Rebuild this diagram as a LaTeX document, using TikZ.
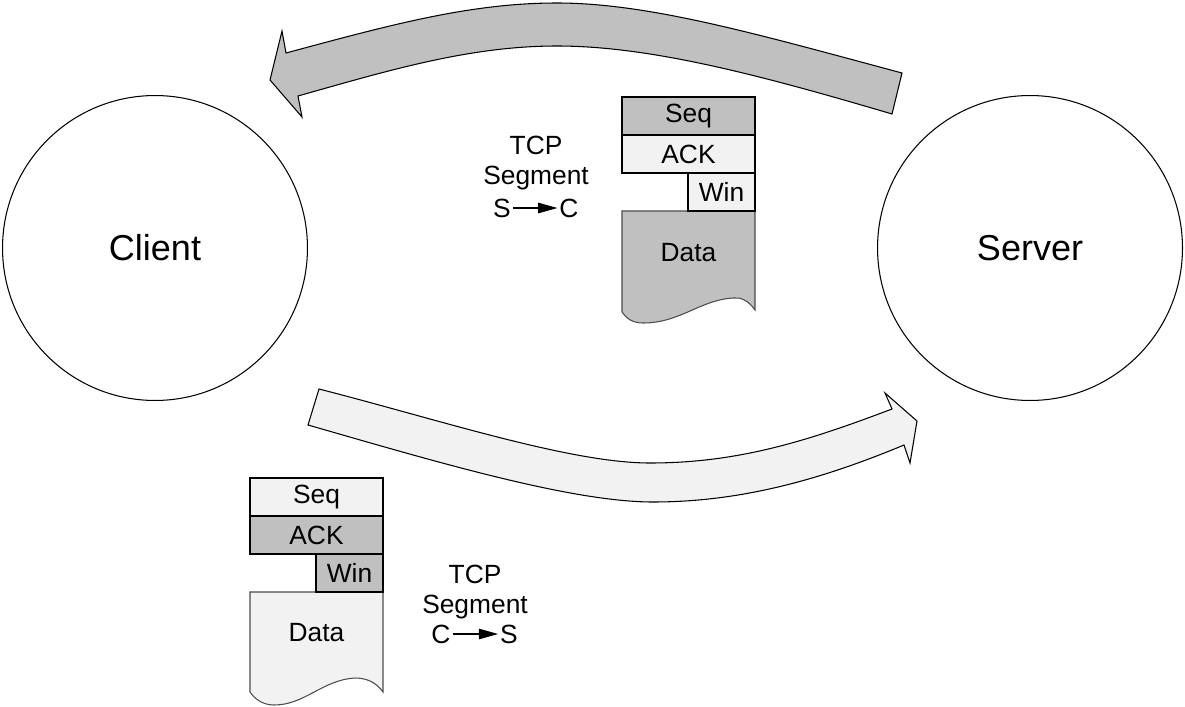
\documentclass[tikz,border=0pt]{standalone}
\usepackage{fontspec}
\setmainfont{Liberation Sans}
\usetikzlibrary{positioning,arrows.meta}
\definecolor{segdark}{HTML}{C0C0C0}
\definecolor{seglight}{HTML}{F2F2F2}

\begin{document}
\begin{tikzpicture}[x=0.02cm, y=-0.02cm,
    row/.style={draw, line width=1.1pt, outer sep=0pt, minimum width=2.66cm, minimum height=0.76cm, inner sep=0pt, font=\fontsize{15}{18}\selectfont},
    winrow/.style={row, minimum width=1.34cm},
    dark/.style={fill=segdark},
    light/.style={fill=seglight},
    datapart/.style={draw=black!70, line width=0.6pt},
    host/.style={circle, draw, line width=0.6pt, minimum size=6.1cm, font=\fontsize{20.5}{24}\selectfont},
    segtext/.style={font=\fontsize{15}{17.6}\selectfont, align=center, inner sep=1pt},
    bigarrow/.style={draw, line width=0.6pt, line join=miter}]
    \useasboundingbox (0,0) rectangle (1185,706);

    \node[host] (client) at (155,248) {Client};
    \node[host] (server) at (1030,248) {Server};

    % server to client
    \draw[bigarrow, fill=segdark] (270,80) -- (282,31) -- (286,53)
        .. controls (390,25) and (470,3) .. (557,3)
        .. controls (650,3) and (760,35) .. (902,73) -- (892,114)
        .. controls (760,75) and (650,46) .. (557,46)
        .. controls (470,46) and (390,70) .. (298,96) -- (302,117) -- cycle;

    % client to server
    \draw[bigarrow, fill=seglight] (319,389)
        .. controls (440,420) and (570,463) .. (650,463)
        .. controls (740,463) and (810,440) .. (892,409) -- (885,393) -- (917,421) -- (910,463) -- (904,445)
        .. controls (820,480) and (740,502) .. (653,502)
        .. controls (570,502) and (430,460) .. (308,425) -- cycle;

    % segment S->C
    \draw[datapart, fill=segdark] (622,211) -- (755,211) -- (755,310)
        .. controls (748,300) and (740,297) .. (733,298)
        .. controls (700,300) and (680,323) .. (643,323)
        .. controls (632,323) and (626,318) .. (622,312) -- cycle;
    \node[row, dark] (seqT) at (688.5,116) {Seq};
    \node[row, light, below=0pt of seqT] (ackT) {ACK};
    \node[winrow, light, anchor=north east] (winT) at (ackT.south east) {Win};
    \node[segtext] at (688.5,253) {Data};

    \node[segtext] (tcpT) at (536,163) {TCP\\Segment};
    \node[segtext] (sT) at (502,208) {S};
    \node[segtext] (cT) at (569,208) {C};
    \draw[-{Triangle[length=11pt,width=6pt]}, line width=0.6pt] (sT) -- (cT);

    % segment C->S
    \draw[datapart, fill=seglight] (250,592) -- (383,592) -- (383,692)
        .. controls (376,682) and (366,678) .. (355,678)
        .. controls (322,680) and (305,705) .. (274,705)
        .. controls (262,705) and (254,698) .. (250,692) -- cycle;
    \node[row, light] (seqB) at (316.5,497) {Seq};
    \node[row, dark, below=0pt of seqB] (ackB) {ACK};
    \node[winrow, dark, anchor=north east] (winB) at (ackB.south east) {Win};
    \node[segtext] at (316.5,633) {Data};

    \node[segtext] (tcpB) at (475,592) {TCP\\Segment};
    \node[segtext] (cB) at (441,634) {C};
    \node[segtext] (sB) at (509,634) {S};
    \draw[-{Triangle[length=11pt,width=6pt]}, line width=0.6pt] (cB) -- (sB);
\end{tikzpicture}
\end{document}
